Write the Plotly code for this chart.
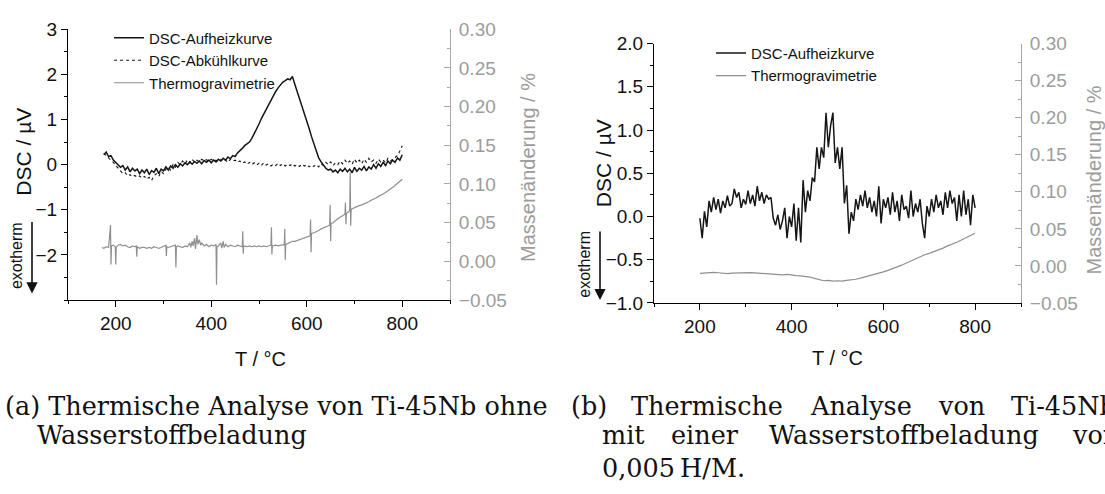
import plotly.graph_objects as go

W, H = 1105, 494

# ---------------- data: panel (a) ----------------
T_A = [175, 180, 185, 190, 195, 200, 205, 210, 215, 220,
       225, 230, 235, 240, 245, 250, 255, 260, 265, 270,
       275, 280, 285, 290, 295, 300, 305, 310, 315, 320,
       325, 330, 335, 340, 345, 350, 355, 360, 365, 370,
       375, 380, 385, 390, 395, 400, 405, 410, 415, 420,
       425, 430, 435, 440, 445, 450, 455, 460, 465, 470,
       475, 480, 485, 490, 495, 500, 505, 510, 515, 520,
       525, 530, 535, 540, 545, 550, 555, 560, 565, 570,
       575, 580, 585, 590, 595, 600, 605, 610, 615, 620,
       625, 630, 635, 640, 645, 650, 655, 660, 665, 670,
       675, 680, 685, 690, 695, 700, 705, 710, 715, 720,
       725, 730, 735, 740, 745, 750, 755, 760, 765, 770,
       775, 780, 785, 790, 795, 800]

DSC_A_HEAT = [0.22, 0.28, 0.18, 0.20, 0.10, 0.05, 0.00, -0.06, -0.02, -0.12,
              -0.05, -0.16, -0.08, -0.14, -0.10, -0.20, -0.12, -0.18, -0.10, -0.22,
              -0.13, -0.17, -0.08, -0.20, -0.10, -0.14, -0.05, -0.12, -0.03, -0.08,
              0.00, -0.06, 0.02, -0.03, 0.04, 0.00, 0.06, 0.01, 0.07, 0.03,
              0.08, 0.02, 0.09, 0.05, 0.10, 0.04, 0.10, 0.06, 0.12, 0.08,
              0.14, 0.10, 0.17, 0.13, 0.20, 0.18, 0.26, 0.30, 0.36, 0.42,
              0.46, 0.50, 0.58, 0.68, 0.78, 0.90, 1.02, 1.12, 1.25, 1.35,
              1.45, 1.55, 1.62, 1.70, 1.78, 1.83, 1.86, 1.90, 1.88, 1.95,
              1.78, 1.62, 1.48, 1.32, 1.12, 0.95, 0.80, 0.62, 0.45, 0.28,
              0.15, 0.06, -0.02, -0.08, -0.12, -0.10, -0.16, -0.12, -0.18, -0.10,
              -0.15, -0.08, -0.16, -0.10, -0.18, -0.06, -0.15, -0.08, -0.12, -0.04,
              -0.14, -0.05, -0.10, 0.00, -0.08, 0.02, -0.04, 0.05, -0.02, 0.08,
              0.02, 0.10, 0.05, 0.15, 0.10, 0.22]

DSC_A_COOL = [0.25, 0.20, 0.15, 0.12, 0.05, -0.02, -0.08, -0.15, -0.20, -0.18,
              -0.25, -0.22, -0.27, -0.24, -0.28, -0.25, -0.30, -0.26, -0.32, -0.28,
              -0.35, -0.25, -0.20, -0.26, -0.15, -0.20, -0.10, -0.05, -0.12, 0.00,
              -0.06, 0.05, 0.00, 0.08, 0.02, 0.10, 0.04, 0.12, 0.05, 0.10,
              0.06, 0.12, 0.08, 0.11, 0.07, 0.12, 0.08, 0.10, 0.06, 0.11,
              0.07, 0.10, 0.05, 0.12, 0.08, 0.10, 0.05, 0.08, 0.03, 0.06,
              0.01, 0.05, 0.00, 0.04, -0.01, 0.03, -0.02, 0.04, -0.01, 0.02,
              -0.03, 0.01, -0.02, 0.03, -0.02, 0.02, -0.03, 0.01, -0.02, 0.02,
              -0.03, 0.00, -0.04, 0.01, -0.03, 0.00, -0.05, -0.01, -0.04, 0.00,
              -0.05, 0.02, -0.02, 0.05, 0.00, 0.06, -0.02, 0.04, 0.00, 0.08,
              0.02, 0.10, 0.03, 0.08, 0.01, 0.12, 0.04, 0.10, 0.02, 0.12,
              0.05, 0.14, 0.06, 0.10, 0.03, 0.12, 0.06, 0.10, 0.04, 0.14,
              0.08, 0.12, 0.16, 0.20, 0.30, 0.42]

TG_A_T = [171, 175, 180, 185, 189, 190, 191, 195, 199, 200, 201, 205, 210, 215, 220,
          225, 230, 235, 240, 243, 244, 245, 250, 255, 260, 265, 270, 275, 280, 285,
          290, 295, 300, 305, 306, 307, 310, 315, 320, 325, 326, 327, 330, 335, 340,
          345, 350, 355, 357, 360, 362, 365, 367, 370, 372, 375, 378, 380, 385, 390,
          395, 400, 405, 410, 411, 412, 415, 420, 422, 425, 427, 430, 435, 440, 445,
          450, 455, 460, 465, 466, 467, 468, 475, 480, 485, 490, 495, 500, 505, 510,
          515, 520, 525, 526, 527, 528, 535, 540, 545, 550, 553, 554, 555, 556, 560,
          565, 570, 575, 580, 585, 590, 595, 600, 605, 607, 608, 609, 610, 615, 620,
          625, 630, 635, 640, 645, 648, 649, 650, 651, 655, 660, 665, 670, 675, 680,
          681, 682, 683, 685, 688, 690, 691, 692, 693, 695, 700, 705, 710, 715, 720,
          725, 730, 735, 740, 745, 750, 755, 760, 765, 770, 775, 780, 785, 790, 795, 800]

TG_A = [0.018, 0.017, 0.019, 0.018, 0.047, -0.004, 0.020, 0.021, 0.019, -0.004, 0.018, 0.021, 0.022, 0.020, 0.021,
        0.019, 0.018, 0.020, 0.019, 0.020, 0.006, 0.019, 0.017, 0.018, 0.018, 0.017, 0.018, 0.017, 0.019, 0.018,
        0.017, 0.018, 0.020, 0.021, 0.007, 0.019, 0.018, 0.019, 0.020, 0.021, -0.008, 0.019, 0.020, 0.019, 0.018,
        0.020, 0.019, 0.024, 0.018, 0.026, 0.020, 0.030, 0.016, 0.034, 0.022, 0.028, 0.021, 0.024, 0.020, 0.022,
        0.019, 0.021, 0.020, 0.022, -0.030, 0.019, 0.020, 0.024, 0.017, 0.026, 0.018, 0.022, 0.019, 0.021, 0.020,
        0.019, 0.021, 0.020, 0.019, 0.039, 0.010, 0.020, 0.019, 0.020, 0.019, 0.020, 0.019, 0.020, 0.019, 0.020,
        0.019, 0.020, 0.021, 0.044, 0.009, 0.020, 0.021, 0.020, 0.021, 0.021, 0.022, 0.042, 0.002, 0.022, 0.023,
        0.025, 0.026, 0.026, 0.027, 0.028, 0.029, 0.030, 0.031, 0.032, 0.033, 0.054, 0.012, 0.036, 0.037, 0.038,
        0.040, 0.042, 0.043, 0.045, 0.046, 0.047, 0.073, 0.026, 0.049, 0.050, 0.053, 0.055, 0.057, 0.059, 0.061,
        0.076, 0.048, 0.062, 0.063, 0.064, 0.066, 0.115, 0.046, 0.067, 0.068, 0.069, 0.070, 0.072, 0.073, 0.074,
        0.076, 0.077, 0.079, 0.080, 0.082, 0.084, 0.085, 0.087, 0.089, 0.091, 0.093, 0.096, 0.098, 0.101, 0.103, 0.106]

# ---------------- data: panel (b) ----------------
T_B = [200, 205, 210, 215, 220, 225, 230, 235, 240, 245,
       250, 255, 260, 265, 270, 275, 280, 285, 290, 295,
       300, 305, 310, 315, 320, 325, 330, 335, 340, 345,
       350, 355, 360, 365, 370, 375, 380, 385, 390, 395,
       400, 405, 410, 415, 420, 425, 430, 435, 440, 445,
       450, 455, 460, 465, 470, 475, 480, 485, 490, 495,
       500, 505, 510, 515, 520, 525, 530, 535, 540, 545,
       550, 555, 560, 565, 570, 575, 580, 585, 590, 595,
       600, 605, 610, 615, 620, 625, 630, 635, 640, 645,
       650, 655, 660, 665, 670, 675, 680, 685, 690, 695,
       700, 705, 710, 715, 720, 725, 730, 735, 740, 745,
       750, 755, 760, 765, 770, 775, 780, 785, 790, 795, 800]

DSC_B = [-0.02, -0.25, 0.06, -0.12, 0.18, 0.05, 0.22, 0.08, 0.20, 0.04,
         0.18, 0.10, 0.24, 0.12, 0.15, 0.32, 0.22, 0.28, 0.10, 0.20,
         0.14, 0.30, 0.15, 0.25, 0.12, 0.35, 0.18, 0.28, 0.15, 0.25,
         0.20, 0.22, -0.02, -0.10, 0.02, -0.15, -0.05, 0.10, -0.25, 0.00,
         -0.12, 0.15, -0.28, 0.10, -0.30, 0.42, 0.05, 0.30, 0.18, 0.45,
         0.40, 0.80, 0.55, 0.80, 0.68, 1.20, 0.80, 1.05, 1.20, 0.62,
         0.80, 0.55, 0.80, 0.15, 0.36, -0.20, 0.05, -0.05, 0.20, 0.08,
         0.25, 0.12, 0.30, 0.10, 0.22, 0.05, 0.18, 0.00, 0.35, -0.08,
         0.20, 0.10, 0.22, 0.02, 0.28, 0.05, 0.18, -0.05, 0.25, 0.08,
         0.12, -0.02, 0.30, 0.00, 0.15, 0.05, 0.20, -0.08, -0.25, 0.12,
         0.00, 0.20, 0.05, 0.25, 0.10, 0.18, 0.02, 0.28, 0.10, 0.30,
         0.15, 0.22, -0.05, 0.25, 0.00, 0.30, 0.02, 0.20, -0.10, 0.25, 0.10]

TG_B_T = [200, 210, 220, 230, 240, 250, 260, 270, 280, 290,
          300, 310, 320, 330, 340, 350, 360, 370, 380, 390,
          400, 410, 420, 430, 440, 450, 460, 470, 480, 490,
          500, 510, 520, 530, 540, 550, 560, 570, 580, 590,
          600, 610, 620, 630, 640, 650, 660, 670, 680, 690,
          700, 710, 720, 730, 740, 750, 760, 770, 780, 790, 800]

TG_B = [-0.0100, -0.0095, -0.0090, -0.0088, -0.0092, -0.0100, -0.0104, -0.0098, -0.0096, -0.0090,
        -0.0082, -0.0090, -0.0095, -0.0100, -0.0103, -0.0108, -0.0110, -0.0114, -0.0120, -0.0114,
        -0.0125, -0.0130, -0.0134, -0.0140, -0.0150, -0.0168, -0.0180, -0.0200, -0.0195, -0.0205,
        -0.0200, -0.0205, -0.0195, -0.0190, -0.0180, -0.0165, -0.0150, -0.0130, -0.0120, -0.0100,
        -0.0080, -0.0060, -0.0040, -0.0020, 0.0010, 0.0040, 0.0070, 0.0100, 0.0120, 0.0150,
        0.0170, 0.0190, 0.0220, 0.0240, 0.0270, 0.0290, 0.0320, 0.0350, 0.0380, 0.0410, 0.0440]

X_TICKS = [200, 400, 600, 800]
Y_TICKS_A = [-2, -1, 0, 1, 2, 3]
Y_TICKS_B = [-1.0, -0.5, 0.0, 0.5, 1.0, 1.5, 2.0]
Y2_TICKS = [-0.05, 0.00, 0.05, 0.10, 0.15, 0.20, 0.25, 0.30]

# ---------------- styling ----------------
SANS = "Liberation Sans, Arial, sans-serif"
SERIF = "DejaVu Serif, serif"
BLACK = "#161616"
TG_COL = "#8f8f8f"
AX_GRAY = "#a6a6a6"
TXT_GRAY = "#9c9c9c"


def fx(p):
    return p / W


def fy(p):
    return 1 - p / H


fig = go.Figure()

fig.add_trace(go.Scatter(x=T_A, y=DSC_A_HEAT, mode="lines", name="DSC-Aufheizkurve",
                         line=dict(color=BLACK, width=1.5), xaxis="x", yaxis="y", legend="legend"))
fig.add_trace(go.Scatter(x=T_A, y=DSC_A_COOL, mode="lines", name="DSC-Abkühlkurve",
                         line=dict(color=BLACK, width=1.1, dash="dot"), xaxis="x", yaxis="y", legend="legend"))
fig.add_trace(go.Scatter(x=TG_A_T, y=TG_A, mode="lines", name="Thermogravimetrie",
                         line=dict(color=TG_COL, width=1.2), xaxis="x", yaxis="y2", legend="legend"))

fig.add_trace(go.Scatter(x=T_B, y=DSC_B, mode="lines", name="DSC-Aufheizkurve",
                         line=dict(color=BLACK, width=1.5), xaxis="x2", yaxis="y3", legend="legend2"))
fig.add_trace(go.Scatter(x=TG_B_T, y=TG_B, mode="lines", name="Thermogravimetrie",
                         line=dict(color=TG_COL, width=1.2), xaxis="x2", yaxis="y4", legend="legend2"))

tickfont = dict(family=SANS, size=19, color="#111111")
tickfont_g = dict(family=SANS, size=19, color=TXT_GRAY)


def xax(dom, anchor):
    return dict(domain=dom, anchor=anchor, range=[100, 900], tickvals=X_TICKS,
                ticks="outside", ticklen=6, tickwidth=1, tickcolor="black",
                showline=True, linecolor="black", linewidth=1, showgrid=False, zeroline=False,
                tickfont=tickfont,
                minor=dict(tick0=0, dtick=100, ticks="outside", ticklen=3, tickcolor="black"))


def yleft(dom, anchor, rng, tv, minor_dt, fmt):
    return dict(domain=dom, anchor=anchor, range=rng, tickvals=tv, tickformat=fmt,
                ticks="outside", ticklen=6, tickwidth=1, tickcolor="black",
                showline=True, linecolor="black", linewidth=1, showgrid=False, zeroline=False,
                tickfont=tickfont,
                minor=dict(tick0=0, dtick=minor_dt, ticks="outside", ticklen=3, tickcolor="black"))


def yright(overl, anchor):
    return dict(overlaying=overl, anchor=anchor, side="right", range=[-0.05, 0.30],
                tickvals=Y2_TICKS, tickformat=".2f", ticks="inside", ticklen=6, tickwidth=1,
                tickcolor=AX_GRAY, showline=True, linecolor=AX_GRAY, linewidth=1,
                showgrid=False, zeroline=False, tickfont=tickfont_g, ticklabelstandoff=4,
                minor=dict(tick0=0, dtick=0.025, ticks="inside", ticklen=3, tickcolor=AX_GRAY))


fig.update_layout(
    width=W, height=H,
    margin=dict(l=0, r=0, t=0, b=0),
    paper_bgcolor="white", plot_bgcolor="white",
    xaxis=xax([fx(68), fx(450)], "y"),
    yaxis=yleft([fy(303), fy(20)], "x", [-3, 3], Y_TICKS_A, 0.5, "d"),
    yaxis2=yright("y", "x"),
    xaxis2=xax([fx(654), fx(1021)], "y3"),
    yaxis3=yleft([fy(306), fy(35)], "x2", [-1, 2], Y_TICKS_B, 0.25, ".1f"),
    yaxis4=yright("y3", "x2"),
    legend=dict(x=fx(109), y=fy(12), xanchor="left", yanchor="top", bgcolor="rgba(0,0,0,0)",
                font=dict(family=SANS, size=15, color="#111111"), tracegroupgap=0),
    legend2=dict(x=fx(711), y=fy(28), xanchor="left", yanchor="top", bgcolor="rgba(0,0,0,0)",
                 font=dict(family=SANS, size=15, color="#111111"), tracegroupgap=0),
    showlegend=True,
)

ann = []


def text(t, x, y, size, family=SANS, color="#111111", angle=0, xanchor="center", yanchor="middle"):
    ann.append(dict(text=t, x=fx(x), y=fy(y), xref="paper", yref="paper", showarrow=False,
                    textangle=angle, xanchor=xanchor, yanchor=yanchor,
                    font=dict(family=family, size=size, color=color)))


# axis titles
text("DSC / µV", 24, 148, 21, angle=-90)
text("DSC / µV", 603, 160, 21, angle=-90)
text("Massenänderung / %", 528, 165, 20, color=TXT_GRAY, angle=-90)
text("Massenänderung / %", 1094, 178, 20, color=TXT_GRAY, angle=-90)
text("T / °C", 260, 364, 20)
text("T / °C", 837, 363, 20)
text("exotherm", 16, 257, 16, angle=-90)
text("exotherm", 585, 266, 16, angle=-90)

# exotherm arrows
for xa, y0, y1 in [(32, 223, 296), (600, 233, 303)]:
    ann.append(dict(text="", x=fx(xa), y=fy(y1), xref="paper", yref="paper",
                    ax=0, ay=-(y1 - y0), axref="pixel", ayref="pixel", showarrow=True,
                    arrowhead=2, arrowsize=1.4, arrowwidth=1.6, arrowcolor="#111111", standoff=0))

# captions
CAP = 25.5
text("(a) Thermische Analyse von Ti-45Nb ohne", 3, 414, CAP, family=SERIF, xanchor="left")
text("Wasserstoffbeladung", 35, 444, CAP, family=SERIF, xanchor="left")
for word, xw in [("(b)", 569), ("Thermische", 629), ("Analyse", 808), ("von", 936), ("Ti-45Nb", 1009)]:
    text(word, xw, 414, CAP, family=SERIF, xanchor="left")
for word, xw in [("mit", 600), ("einer", 669), ("Wasserstoffbeladung", 767), ("von", 1070)]:
    text(word, xw, 444, CAP, family=SERIF, xanchor="left")
text("0,005\u2009H/M.", 600, 478, CAP, family=SERIF, xanchor="left")

fig.update_layout(annotations=ann)

fig.write_html("out.html")
